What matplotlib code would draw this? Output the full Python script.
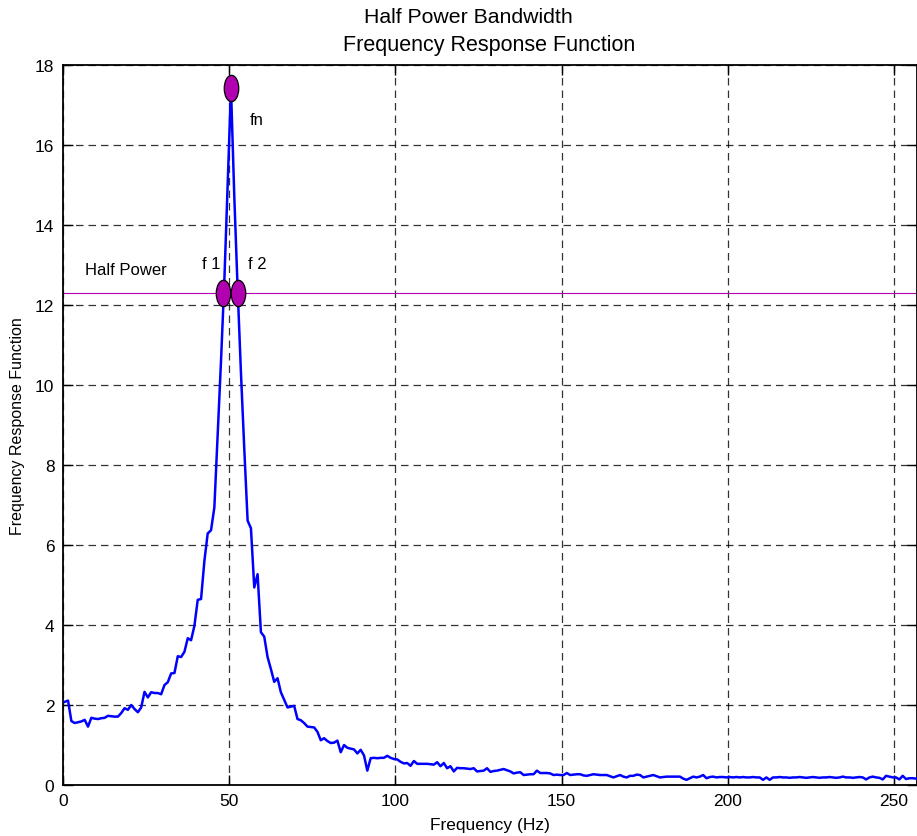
import matplotlib
matplotlib.use("Agg")
import matplotlib.pyplot as plt
import numpy as np
from matplotlib.path import Path
from matplotlib.transforms import Affine2D

#font close to the MATLAB Helvetica look
plt.rcParams['font.family'] = ['Liberation Sans', 'DejaVu Sans']

#===============
#data (1 Hz bins starting at 0.6 Hz)
freq_start = 0.6
freq_step = 1.0
frf = [
    2.08, 2.11, 1.60, 1.55, 1.57, 1.59, 1.63, 1.46, 1.68, 1.66,
    1.65, 1.67, 1.68, 1.73, 1.72, 1.71, 1.71, 1.80, 1.92, 1.88,
    2.00, 1.90, 1.82, 1.94, 2.33, 2.19, 2.32, 2.30, 2.30, 2.27,
    2.50, 2.57, 2.79, 2.80, 3.22, 3.20, 3.33, 3.67, 3.62, 3.98,
    4.63, 4.65, 5.60, 6.29, 6.37, 6.94, 8.80, 10.60, 12.60, 15.00,
    17.42, 14.70, 12.40, 10.30, 8.40, 6.61, 6.42, 4.94, 5.27, 3.82,
    3.71, 3.20, 2.90, 2.58, 2.67, 2.32, 2.13, 1.94, 1.96, 1.98,
    1.65, 1.62, 1.55, 1.46, 1.45, 1.44, 1.33, 1.12, 1.17, 1.10,
    1.05, 1.06, 1.11, 0.82, 1.00, 0.93, 0.91, 0.89, 0.79, 0.88,
    0.74, 0.36, 0.67, 0.68, 0.67, 0.68, 0.68, 0.73, 0.68, 0.65,
    0.64, 0.58, 0.54, 0.55, 0.48, 0.60, 0.53, 0.53, 0.53, 0.53,
    0.52, 0.51, 0.57, 0.47, 0.55, 0.42, 0.47, 0.34, 0.43, 0.42,
    0.42, 0.41, 0.40, 0.42, 0.34, 0.35, 0.36, 0.42, 0.33, 0.35,
    0.36, 0.38, 0.40, 0.37, 0.34, 0.29, 0.31, 0.32, 0.25, 0.26,
    0.27, 0.27, 0.36, 0.30, 0.30, 0.30, 0.29, 0.25, 0.26, 0.25,
    0.25, 0.30, 0.25, 0.26, 0.27, 0.27, 0.24, 0.23, 0.25, 0.27,
    0.26, 0.25, 0.25, 0.25, 0.22, 0.19, 0.22, 0.25, 0.21, 0.19,
    0.23, 0.23, 0.26, 0.25, 0.19, 0.21, 0.23, 0.25, 0.22, 0.19,
    0.20, 0.21, 0.21, 0.21, 0.21, 0.21, 0.16, 0.13, 0.17, 0.21,
    0.19, 0.21, 0.25, 0.17, 0.20, 0.21, 0.19, 0.20, 0.20, 0.19,
    0.20, 0.19, 0.20, 0.19, 0.20, 0.19, 0.19, 0.20, 0.19, 0.19,
    0.13, 0.19, 0.13, 0.19, 0.19, 0.20, 0.19, 0.19, 0.18, 0.19,
    0.19, 0.20, 0.19, 0.18, 0.19, 0.20, 0.19, 0.18, 0.19, 0.19,
    0.20, 0.19, 0.18, 0.19, 0.21, 0.19, 0.19, 0.18, 0.19, 0.20,
    0.19, 0.14, 0.19, 0.21, 0.19, 0.18, 0.14, 0.23, 0.21, 0.19,
    0.19, 0.14, 0.23, 0.15, 0.17, 0.17, 0.16,
]
freq = freq_start + freq_step * np.arange(len(frf))

#natural frequency and half power points
fn_freq = 50.6
fn_value = 17.42
half_power = 12.3
f1_freq = 48.3
f2_freq = 52.6

x_ticks = [0, 50, 100, 150, 200, 250]
y_ticks = [0, 2, 4, 6, 8, 10, 12, 14, 16, 18]

#===============
#figure and axes placed like the MATLAB export
fig = plt.figure(figsize=(9.17, 8.37), dpi=100)
ax = fig.add_axes([0.0684, 0.0609, 0.9316, 0.8602])

#grid first so the curve sits on top
ax.grid(True, color='black', linestyle=(0, (6, 4)), linewidth=0.9, alpha=0.8)
ax.set_axisbelow(True)

#frequency response curve
ax.plot(freq, frf, color='#0000ff', linewidth=1.8, zorder=3)

#half power line across the whole axes
ax.axhline(half_power, color='#b000b0', linewidth=0.8, zorder=2)

#tall ellipse marker like the reference
ellipse = Path.unit_circle().transformed(Affine2D().scale(0.55, 1.0))
ax.plot([fn_freq, f1_freq, f2_freq], [fn_value, half_power, half_power],
        linestyle='none', marker=ellipse, markersize=19,
        markerfacecolor='#b000b0', markeredgecolor='black',
        markeredgewidth=0.9, zorder=4)

#labels for the points
ax.text(56.3, 16.65, 'fn', fontsize=12, ha='left', va='center')
ax.text(42.0, 13.05, 'f 1', fontsize=12, ha='left', va='center')
ax.text(55.6, 13.05, 'f 2', fontsize=12, ha='left', va='center')
ax.text(6.7, 12.9, 'Half Power', fontsize=12, ha='left', va='center')

#axis settings (MATLAB style box with inward ticks)
ax.set_xlim(0, 256.9)
ax.set_ylim(0, 18)
ax.set_xticks(x_ticks)
ax.set_yticks(y_ticks)
ax.tick_params(direction='in', length=7, width=1.0, top=True, right=True,
               labelsize=12.5, pad=6)
for spine in ax.spines.values():
    spine.set_linewidth(1.3)

ax.set_xlabel('Frequency (Hz)', fontsize=12.5, labelpad=6)
ax.set_ylabel('Frequency Response Function', fontsize=11.5, labelpad=7)

#two line title, second line centred on the axes
fig.text(0.511, 0.979, 'Half Power Bandwidth', fontsize=15.3, ha='center', va='center')
fig.text(0.533, 0.946, 'Frequency Response Function', fontsize=15.5, ha='center', va='center')

plt.savefig('out.png', dpi=100)
